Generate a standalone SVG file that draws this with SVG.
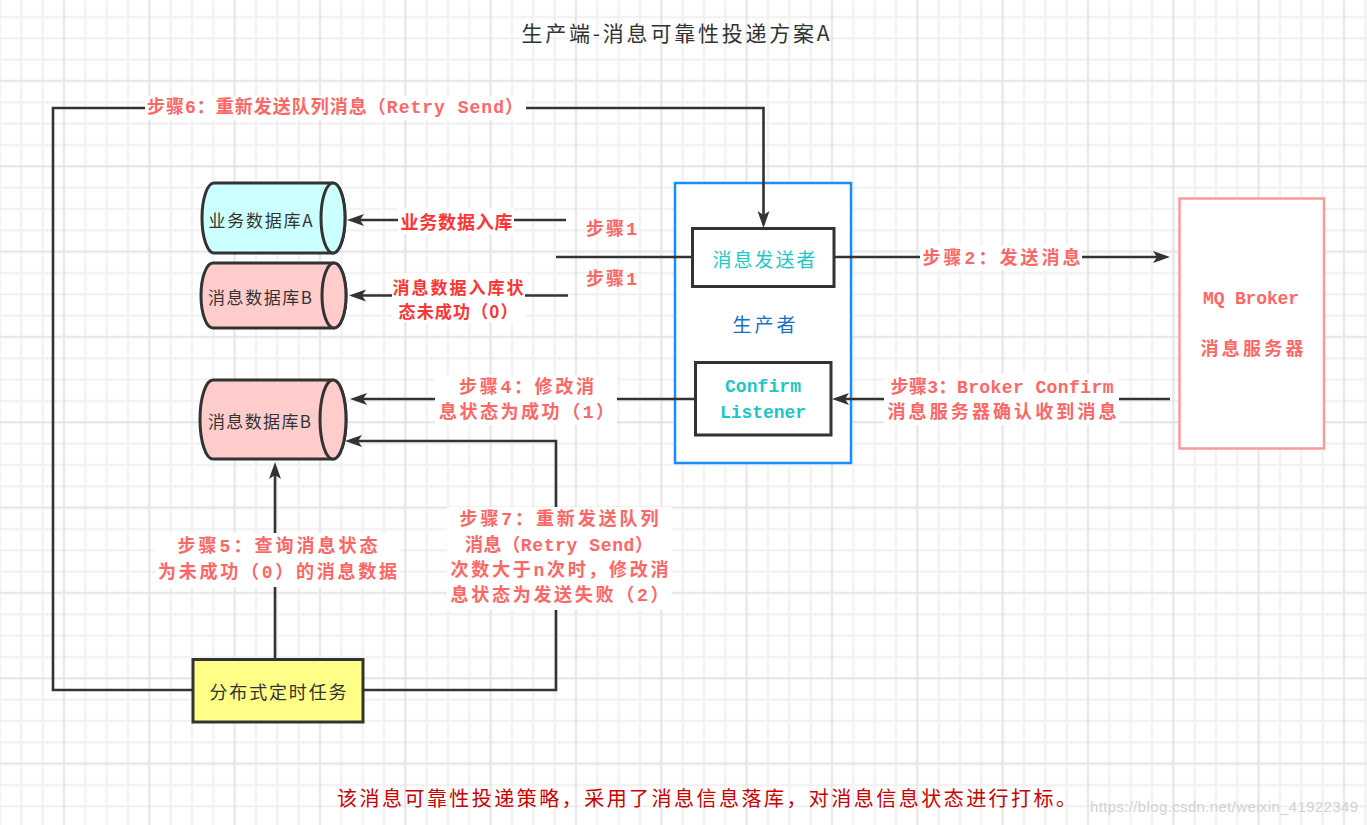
<svg xmlns="http://www.w3.org/2000/svg" width="1367" height="825" viewBox="0 0 1367 825">
<style>
text{text-anchor:middle;dominant-baseline:central}
.t{font-family:"Noto Sans CJK SC",sans-serif;fill:#333333}
.lbl{font-family:"Liberation Mono","Noto Sans CJK SC",monospace;font-weight:bold;fill:#ff6666;font-size:18px}
.red{font-family:"Noto Sans CJK SC",sans-serif;font-weight:bold;fill:#ff3333;font-size:18px}
.mono{font-family:"Liberation Mono","Noto Sans CJK SC",monospace;font-weight:bold}
.edge{fill:none;stroke:#333333;stroke-width:2.6}
.edgeA{fill:none;stroke:#333333;stroke-width:2.6;marker-end:url(#arr)}
.cyl{stroke:#333333;stroke-width:3}
.bg{fill:#ffffff}
</style>
<defs>
<pattern id="grid" x="-10.667" y="6.333" width="85.333" height="85.333" patternUnits="userSpaceOnUse">
<rect width="85.333" height="85.333" fill="#ffffff"/>
<g fill="#f0f0f0">
<rect x="9.667" y="0" width="2" height="85.333"/>
<rect x="31" y="0" width="2" height="85.333"/>
<rect x="52.333" y="0" width="2" height="85.333"/>
<rect x="0" y="9.667" width="85.333" height="2"/>
<rect x="0" y="31" width="85.333" height="2"/>
<rect x="0" y="52.333" width="85.333" height="2"/>
</g>
<g fill="#e4e4e4">
<rect x="73.667" y="0" width="2" height="85.333"/>
<rect x="0" y="73.667" width="85.333" height="2"/>
</g>
</pattern>
<marker id="arr" markerUnits="userSpaceOnUse" markerWidth="18" markerHeight="14" refX="5" refY="7" orient="auto" overflow="visible">
<path d="M0,1 L17,7 L0,13 L4,7 Z" fill="#333333"/>
</marker>
</defs>
<rect width="1367" height="825" fill="url(#grid)"/>

<text class="t" x="675.5" y="32" font-size="21" textLength="308" lengthAdjust="spacing">生产端-消息可靠性投递方案A</text>

<g id="producer">
<rect x="675" y="183" width="176" height="280" fill="#ffffff" stroke="#1a8cff" stroke-width="2.5"/>
<text class="t" x="764" y="323" font-size="19" style="fill:#1a6fc4" textLength="63" lengthAdjust="spacing">生产者</text>
</g>

<g id="connectors">
<path class="edgeA" d="M566,220 H359"/>
<path class="edgeA" d="M568,295.5 H361"/>
<path class="edge" d="M556,257 H692"/>
<path class="edgeA" d="M193,690 H53 V108 H763.5 V216"/>
<path class="edgeA" d="M834,257 H1158"/>
<path class="edgeA" d="M1170,399 H844"/>
<path class="edgeA" d="M695,399 H362"/>
<path class="edgeA" d="M275,660 V474"/>
<path class="edgeA" d="M363,690 H556 V441 H357"/>
</g>

<g id="label-s6">
<rect class="bg" x="145" y="96" width="381" height="24"/>
<text class="lbl" x="335" y="108" textLength="376" lengthAdjust="spacing">步骤6：重新发送队列消息（Retry Send）</text>
</g>
<g id="label-biz">
<rect class="bg" x="398" y="208" width="116" height="26"/>
<text class="red" x="456.5" y="221" textLength="112" lengthAdjust="spacing">业务数据入库</text>
</g>
<g id="label-msgin">
<rect class="bg" x="392" y="273" width="133" height="49"/>
<text class="red" x="458" y="286" font-size="17" style="font-size:17px" textLength="131" lengthAdjust="spacing">消息数据入库状</text>
<text class="red" x="458" y="310" font-size="17" style="font-size:17px" textLength="119" lengthAdjust="spacing">态未成功（0）</text>
</g>
<g id="label-s1">
<text class="lbl" x="611.5" y="229.5" textLength="51" lengthAdjust="spacing">步骤1</text>
<text class="lbl" x="611.5" y="279.5" textLength="51" lengthAdjust="spacing">步骤1</text>
</g>
<g id="label-s2">
<rect class="bg" x="920" y="246" width="162" height="24"/>
<text class="lbl" x="1001.5" y="258.5" textLength="158" lengthAdjust="spacing">步骤2：发送消息</text>
</g>
<g id="label-s3">
<rect class="bg" x="884" y="374" width="235" height="51"/>
<text class="lbl" x="1002" y="387.5" textLength="223" lengthAdjust="spacing">步骤3：Broker Confirm</text>
<text class="lbl" x="1002" y="412.5" textLength="229" lengthAdjust="spacing">消息服务器确认收到消息</text>
</g>
<g id="label-s4">
<rect class="bg" x="435" y="375" width="182" height="50"/>
<text class="lbl" x="526.5" y="388" textLength="135" lengthAdjust="spacing">步骤4：修改消</text>
<text class="lbl" x="526.5" y="413" textLength="175" lengthAdjust="spacing">息状态为成功（1）</text>
</g>
<g id="label-s5">
<rect class="bg" x="155" y="533" width="245" height="54"/>
<text class="lbl" x="277.5" y="547" textLength="200" lengthAdjust="spacing">步骤5：查询消息状态</text>
<text class="lbl" x="277.5" y="573" textLength="239" lengthAdjust="spacing">为未成功（0）的消息数据</text>
</g>
<g id="label-s7">
<rect class="bg" x="447" y="507" width="225" height="103"/>
<text class="lbl" x="559" y="520" textLength="199" lengthAdjust="spacing">步骤7：重新发送队列</text>
<text class="lbl" x="559" y="545.5" textLength="188" lengthAdjust="spacing">消息（Retry Send）</text>
<text class="lbl" x="559.5" y="571" textLength="218" lengthAdjust="spacing">次数大于n次时，修改消</text>
<text class="lbl" x="559.5" y="596" textLength="218" lengthAdjust="spacing">息状态为发送失败（2）</text>
</g>

<g id="db-a">
<path class="cyl" fill="#ccffff" d="M214,183 H333 A12,35 0 0 1 333,253 H214 A12,35 0 0 1 214,183 Z"/>
<ellipse class="cyl" fill="#ccffff" cx="333" cy="218" rx="12" ry="35"/>
<text class="t" x="260.5" y="219" font-size="17" textLength="104" lengthAdjust="spacing">业务数据库A</text>
</g>
<g id="db-b1">
<path class="cyl" fill="#ffcccc" d="M213,263 H334 A12,32.5 0 0 1 334,328 H213 A12,32.5 0 0 1 213,263 Z"/>
<ellipse class="cyl" fill="#ffcccc" cx="334" cy="295.5" rx="12" ry="32.5"/>
<text class="t" x="260" y="296.5" font-size="17" textLength="104" lengthAdjust="spacing">消息数据库B</text>
</g>
<g id="db-b2">
<path class="cyl" fill="#ffcccc" d="M213,380 H333 A13,39.5 0 0 1 333,459 H213 A13,39.5 0 0 1 213,380 Z"/>
<ellipse class="cyl" fill="#ffcccc" cx="333" cy="419.5" rx="13" ry="39.5"/>
<text class="t" x="259.5" y="420" font-size="17" textLength="103" lengthAdjust="spacing">消息数据库B</text>
</g>

<g id="sender">
<rect x="692.5" y="228.5" width="141.5" height="58" fill="#ffffff" stroke="#333333" stroke-width="3"/>
<text class="t" x="764" y="258" font-size="19" style="fill:#1cc7c7" textLength="103" lengthAdjust="spacing">消息发送者</text>
</g>
<g id="listener">
<rect x="695.5" y="362.5" width="135.5" height="72.5" fill="#ffffff" stroke="#333333" stroke-width="3"/>
<text class="mono" x="763" y="387" font-size="18" style="fill:#1cc7c7" textLength="76" lengthAdjust="spacing">Confirm</text>
<text class="mono" x="763" y="413" font-size="18" style="fill:#1cc7c7" textLength="86" lengthAdjust="spacing">Listener</text>
</g>
<g id="broker">
<rect x="1179.5" y="198.5" width="144.5" height="250" fill="#ffffff" stroke="#ff9999" stroke-width="2.5"/>
<text class="lbl" x="1251" y="298.5" textLength="96" lengthAdjust="spacing">MQ Broker</text>
<text class="lbl" x="1252" y="349.5" textLength="103" lengthAdjust="spacing">消息服务器</text>
</g>
<g id="task">
<rect x="193" y="659.5" width="170" height="62.5" fill="#ffff88" stroke="#333333" stroke-width="3"/>
<text class="t" x="278" y="691" font-size="18" textLength="137" lengthAdjust="spacing">分布式定时任务</text>
</g>

<text class="t" x="706.5" y="797" font-size="20" style="fill:#cc0000" textLength="739" lengthAdjust="spacing">该消息可靠性投递策略，采用了消息信息落库，对消息信息状态进行打标。</text>
<text x="1224" y="806" font-family="Liberation Sans, Arial, sans-serif" font-size="15" fill="#d2d2d2" textLength="268" lengthAdjust="spacing">https://blog.csdn.net/weixin_41922349</text>
</svg>
